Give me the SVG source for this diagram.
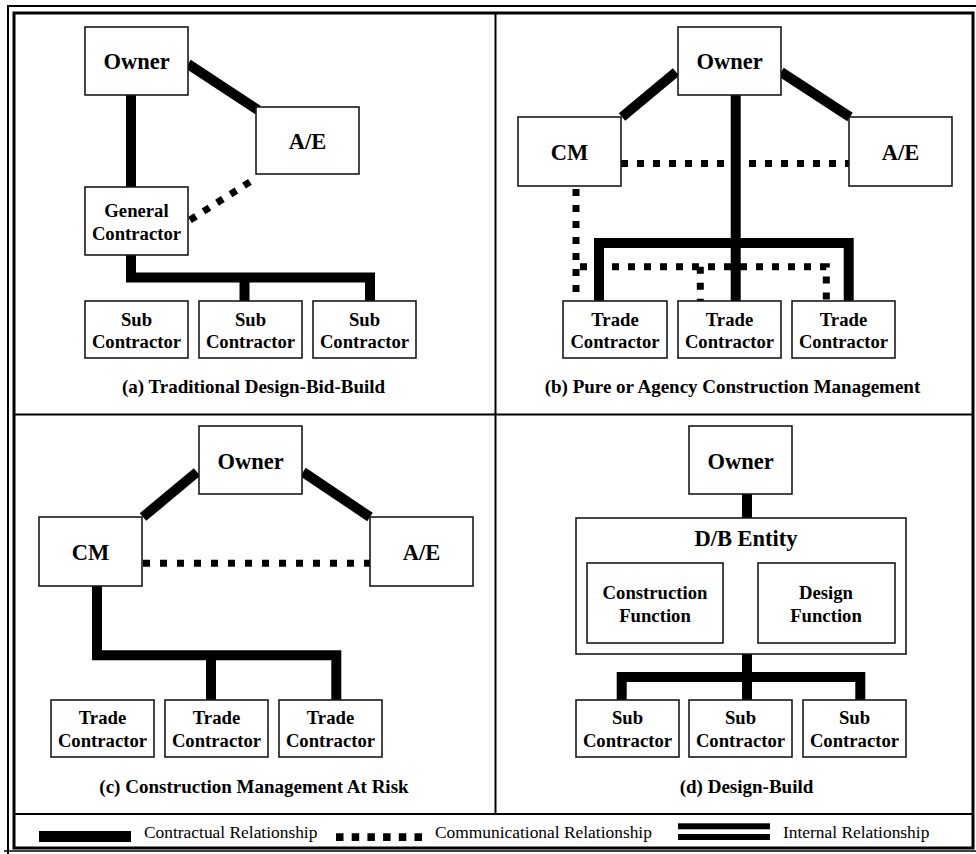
<svg xmlns="http://www.w3.org/2000/svg" width="976" height="854" viewBox="0 0 976 854">
  <style>
    .box { fill: #fff; stroke: #1a1a1a; stroke-width: 1.6; }
    .lbl { font-family: "Liberation Serif", "Times New Roman", serif; font-weight: bold; text-anchor: middle; fill: #000; }
    .big { font-size: 22.5px; }
    .sm { font-size: 18.7px; }
    .cap { font-family: "Liberation Serif", "Times New Roman", serif; font-weight: bold; font-size: 19px; text-anchor: middle; fill: #000; }
    .leg { font-family: "Liberation Serif", "Times New Roman", serif; font-size: 17.4px; fill: #000; }
    .contract { fill: none; stroke: #000; stroke-width: 10; stroke-linecap: butt; stroke-linejoin: miter; }
    .comm { fill: none; stroke: #000; stroke-width: 7; stroke-dasharray: 7 9; }
    .internal { fill: none; stroke: #000; stroke-width: 5.5; }
    .frame { fill: none; stroke: #000; }
  </style>

  <rect width="976" height="854" fill="#fff"/>

  <!-- outer double frame and panel dividers -->
  <g id="frame">
    <path class="frame" d="M8 854 V6 H976" stroke-width="2"/>
    <path class="frame" d="M4 851 H976" stroke-width="1.5" stroke="#555"/>
    <rect class="frame" x="14" y="13" width="959" height="835" stroke-width="3" stroke="#222"/>
    <line class="frame" x1="495.5" y1="13" x2="495.5" y2="814" stroke-width="2"/>
    <line class="frame" x1="14" y1="414.5" x2="973" y2="414.5" stroke-width="2"/>
    <line class="frame" x1="14" y1="814" x2="973" y2="814" stroke-width="2"/>
  </g>

  <!-- relationship lines -->
  <g id="connectors">
    <!-- (a) design-bid-build -->
    <line class="contract" x1="188" y1="64" x2="258" y2="110"/>
    <line class="contract" x1="131" y1="95" x2="131" y2="187"/>
    <line class="comm" x1="190" y1="220" x2="256" y2="178"/>
    <path class="contract" d="M131 255 V277.5 H370 V301"/>
    <line class="contract" x1="244.5" y1="277" x2="244.5" y2="301"/>

    <!-- (b) agency CM -->
    <line class="comm" x1="621" y1="163.5" x2="849" y2="163.5"/>
    <path class="comm" d="M576 189 V301"/>
    <path class="comm" d="M580 266.7 H826.3 V301"/>
    <line class="comm" x1="700.3" y1="266.7" x2="700.3" y2="301"/>
    <line class="contract" x1="676" y1="72" x2="622" y2="117"/>
    <line class="contract" x1="781" y1="72" x2="850" y2="117"/>
    <line class="contract" x1="735.7" y1="95" x2="735.7" y2="301"/>
    <path class="contract" d="M599 301 V243 H848.7 V301"/>

    <!-- (c) CM at risk -->
    <line class="contract" x1="197" y1="472" x2="143" y2="517"/>
    <line class="contract" x1="303" y1="472" x2="370" y2="517"/>
    <line class="comm" x1="143" y1="563.3" x2="370" y2="563.3" style="stroke-dasharray: 7 10"/>
    <path class="contract" d="M97 586 V655.3 H336.3 V700"/>
    <line class="contract" x1="211" y1="655" x2="211" y2="700"/>

    <!-- (d) design-build -->
    <line class="contract" x1="747" y1="494" x2="747" y2="518"/>
    <line class="internal" x1="723" y1="598" x2="758" y2="598"/>
    <line class="internal" x1="723" y1="609" x2="758" y2="609"/>
    <line class="contract" x1="747" y1="654" x2="747" y2="700"/>
    <path class="contract" d="M621.7 700 V677 H860.3 V700"/>
  </g>

  <!-- (a) Traditional Design-Bid-Build -->
  <g id="a-owner"><rect class="box" x="85" y="27" width="103" height="68"/><text class="lbl big" x="136.5" y="69">Owner</text></g>
  <g id="a-ae"><rect class="box" x="256" y="107" width="103" height="67"/><text class="lbl big" x="307.5" y="149">A/E</text></g>
  <g id="a-gc"><rect class="box" x="85" y="187" width="103" height="68"/><text class="lbl sm" x="136.5" y="217">General</text><text class="lbl sm" x="136.5" y="240">Contractor</text></g>
  <g id="a-sub1"><rect class="box" x="85" y="301" width="103" height="57"/><text class="lbl sm" x="136.5" y="326">Sub</text><text class="lbl sm" x="136.5" y="348">Contractor</text></g>
  <g id="a-sub2"><rect class="box" x="199" y="301" width="103" height="57"/><text class="lbl sm" x="250.5" y="326">Sub</text><text class="lbl sm" x="250.5" y="348">Contractor</text></g>
  <g id="a-sub3"><rect class="box" x="313" y="301" width="103" height="57"/><text class="lbl sm" x="364.5" y="326">Sub</text><text class="lbl sm" x="364.5" y="348">Contractor</text></g>
  <text class="cap" x="253.5" y="393">(a) Traditional Design-Bid-Build</text>

  <!-- (b) Pure or Agency Construction Management -->
  <g id="b-owner"><rect class="box" x="678" y="27" width="103" height="68"/><text class="lbl big" x="729.5" y="69">Owner</text></g>
  <g id="b-cm"><rect class="box" x="518" y="117" width="103" height="69"/><text class="lbl big" x="569.5" y="160">CM</text></g>
  <g id="b-ae"><rect class="box" x="849" y="117" width="103" height="69"/><text class="lbl big" x="900.5" y="160">A/E</text></g>
  <g id="b-tc1"><rect class="box" x="563" y="301" width="104" height="57"/><text class="lbl sm" x="615" y="326">Trade</text><text class="lbl sm" x="615" y="348">Contractor</text></g>
  <g id="b-tc2"><rect class="box" x="678" y="301" width="103" height="57"/><text class="lbl sm" x="729.5" y="326">Trade</text><text class="lbl sm" x="729.5" y="348">Contractor</text></g>
  <g id="b-tc3"><rect class="box" x="792" y="301" width="103" height="57"/><text class="lbl sm" x="843.5" y="326">Trade</text><text class="lbl sm" x="843.5" y="348">Contractor</text></g>
  <text class="cap" x="732.5" y="393">(b) Pure or Agency Construction Management</text>

  <!-- (c) Construction Management At Risk -->
  <g id="c-owner"><rect class="box" x="199" y="426" width="103" height="68"/><text class="lbl big" x="250.5" y="469">Owner</text></g>
  <g id="c-cm"><rect class="box" x="39" y="517" width="103" height="69"/><text class="lbl big" x="90.5" y="560">CM</text></g>
  <g id="c-ae"><rect class="box" x="370" y="517" width="103" height="69"/><text class="lbl big" x="421.5" y="560">A/E</text></g>
  <g id="c-tc1"><rect class="box" x="51" y="700" width="103" height="57"/><text class="lbl sm" x="102.5" y="724">Trade</text><text class="lbl sm" x="102.5" y="747">Contractor</text></g>
  <g id="c-tc2"><rect class="box" x="165" y="700" width="103" height="57"/><text class="lbl sm" x="216.5" y="724">Trade</text><text class="lbl sm" x="216.5" y="747">Contractor</text></g>
  <g id="c-tc3"><rect class="box" x="279" y="700" width="103" height="57"/><text class="lbl sm" x="330.5" y="724">Trade</text><text class="lbl sm" x="330.5" y="747">Contractor</text></g>
  <text class="cap" x="254" y="793">(c) Construction Management At Risk</text>

  <!-- (d) Design-Build -->
  <g id="d-owner"><rect class="box" x="689" y="426" width="103" height="68"/><text class="lbl big" x="740.5" y="469">Owner</text></g>
  <g id="d-entity"><rect class="box" x="576" y="518" width="330" height="136"/><text class="lbl big" x="746" y="546">D/B Entity</text></g>
  <g id="d-construction"><rect class="box" x="587" y="563" width="136" height="80"/><text class="lbl sm" x="655" y="599">Construction</text><text class="lbl sm" x="655" y="621.5">Function</text></g>
  <g id="d-design"><rect class="box" x="758" y="563" width="137" height="80"/><text class="lbl sm" x="826" y="599">Design</text><text class="lbl sm" x="826" y="621.5">Function</text></g>
  <g id="d-sub1"><rect class="box" x="576" y="700" width="103" height="57"/><text class="lbl sm" x="627.5" y="724">Sub</text><text class="lbl sm" x="627.5" y="747">Contractor</text></g>
  <g id="d-sub2"><rect class="box" x="689" y="700" width="103" height="57"/><text class="lbl sm" x="740.5" y="724">Sub</text><text class="lbl sm" x="740.5" y="747">Contractor</text></g>
  <g id="d-sub3"><rect class="box" x="803" y="700" width="103" height="57"/><text class="lbl sm" x="854.5" y="724">Sub</text><text class="lbl sm" x="854.5" y="747">Contractor</text></g>
  <text class="cap" x="746.5" y="793">(d) Design-Build</text>

  <!-- legend -->
  <g id="legend">
    <rect x="39" y="831" width="92" height="11" fill="#000"/>
    <text class="leg" x="144" y="838">Contractual Relationship</text>
    <line x1="336" y1="837.2" x2="422" y2="837.2" stroke="#000" stroke-width="7.7" stroke-dasharray="7.5 8.2"/>
    <text class="leg" x="435" y="838">Communicational Relationship</text>
    <rect x="678" y="823.3" width="92" height="6" fill="#000"/>
    <rect x="678" y="834" width="92" height="6" fill="#000"/>
    <text class="leg" x="783" y="838">Internal Relationship</text>
  </g>
</svg>
